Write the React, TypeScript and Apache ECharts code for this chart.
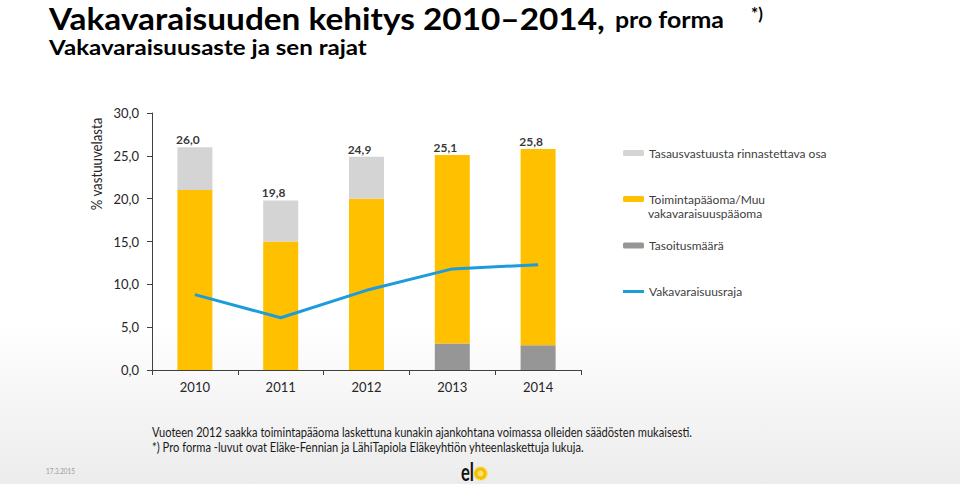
import React, { useEffect, useRef } from "react";
import * as echarts from "echarts";

const years = ["2010", "2011", "2012", "2013", "2014"];
const tasoitusmaara = [0, 0, 0, 3.1, 2.9];
const toimintapaaoma = [21.0, 15.0, 20.0, 22.0, 22.9];
const tasausvastuu = [5.0, 4.8, 4.9, 0, 0];
const totals = [26.0, 19.8, 24.9, 25.1, 25.8];
const vakavaraisuusraja = [8.8, 6.1, 9.3, 11.8, 12.3];

const NAME_TASAUS = "Tasausvastuusta rinnastettava osa";
const NAME_TOIM = "Toimintapääoma/Muu vakavaraisuuspääoma";
const NAME_TASOITUS = "Tasoitusmäärä";
const NAME_RAJA = "Vakavaraisuusraja";

const FONT = "Lato";

function measure(text: string, font: string): number {
  const c = document.createElement("canvas").getContext("2d");
  if (!c) return 1;
  c.font = font;
  return c.measureText(text).width || 1;
}

function fitText(
  text: string,
  x: number,
  y: number,
  size: number,
  weight: string,
  target: number,
  color: string,
  extra: any = {}
) {
  const w = measure(text, `${weight} ${size}px ${FONT}`);
  return {
    type: "text",
    x,
    y,
    scaleX: target / w,
    style: {
      text,
      fontFamily: FONT,
      fontSize: size,
      fontWeight: weight,
      fill: color,
      verticalAlign: "middle",
      align: "left",
    },
    ...extra,
  };
}

const fmt = (v: number) => v.toFixed(1).replace(".", ",");

export default function App() {
  const ref = useRef<HTMLDivElement>(null);

  useEffect(() => {
    document.body.style.margin = "0";
    if (!ref.current) return;
    const chart = echarts.init(ref.current, undefined, { renderer: "svg" });

    const yName = (() => {
      const text = "% vastuuvelasta";
      const w = measure(text, `normal 16px ${FONT}`);
      return {
        type: "text",
        x: 96,
        y: 164,
        rotation: Math.PI / 2,
        scaleX: 93 / w,
        style: {
          text,
          fontFamily: FONT,
          fontSize: 16,
          fill: "#262626",
          align: "center",
          verticalAlign: "middle",
        },
      };
    })();

    const legendBase = {
      left: 623,
      padding: 0,
      itemWidth: 21,
      itemHeight: 6,
      itemGap: 5,
      selectedMode: false,
      textStyle: { fontFamily: FONT, fontSize: 12, color: "#404040", lineHeight: 14 },
    };

    const option: any = {
      animation: false,
      backgroundColor: "#ffffff",
      grid: { left: 152, right: 379, top: 113, bottom: 114, containLabel: false },
      legend: [
        { ...legendBase, top: 146, data: [NAME_TASAUS] },
        { ...legendBase, top: 192, data: [NAME_TOIM], formatter: () => "Toimintapääoma/Muu" },
        { ...legendBase, top: 238.5, data: [NAME_TASOITUS] },
        { ...legendBase, top: 284.5, itemHeight: 3, data: [{ name: NAME_RAJA, icon: "rect" }] },
      ],
      xAxis: {
        type: "category",
        data: years,
        boundaryGap: true,
        axisLine: { lineStyle: { color: "#404040", width: 1 } },
        axisTick: { show: true, length: 5, alignWithLabel: false, lineStyle: { color: "#404040" } },
        axisLabel: { margin: 10, fontFamily: FONT, fontSize: 13, color: "#262626" },
      },
      yAxis: {
        type: "value",
        min: 0,
        max: 30,
        interval: 5,
        splitLine: { show: false },
        axisLine: { show: true, lineStyle: { color: "#404040", width: 1 } },
        axisTick: { show: true, length: 5, lineStyle: { color: "#404040" } },
        axisLabel: {
          margin: 13,
          fontFamily: FONT,
          fontSize: 13,
          color: "#262626",
          formatter: (v: number) => fmt(v),
        },
      },
      series: [
        {
          name: NAME_TASOITUS,
          type: "bar",
          stack: "total",
          barWidth: 35,
          data: tasoitusmaara,
          itemStyle: { color: "#969696" },
        },
        {
          name: NAME_TOIM,
          type: "bar",
          stack: "total",
          barWidth: 35,
          data: toimintapaaoma,
          itemStyle: { color: "#FFC000" },
        },
        {
          name: NAME_TASAUS,
          type: "bar",
          stack: "total",
          barWidth: 35,
          data: tasausvastuu,
          itemStyle: { color: "#D4D4D4" },
        },
        {
          name: NAME_RAJA,
          type: "line",
          data: vakavaraisuusraja,
          symbol: "none",
          lineStyle: { color: "#1E9BDC", width: 3 },
          itemStyle: { color: "#1E9BDC" },
          z: 5,
        },
        {
          name: "totals",
          type: "scatter",
          data: totals,
          symbolSize: 1,
          itemStyle: { color: "transparent" },
          label: {
            show: true,
            position: "top",
            distance: 1,
            offset: [-7, 0],
            fontFamily: FONT,
            fontSize: 12,
            fontWeight: "bold",
            color: "#000000",
            formatter: (p: any) => fmt(p.value),
          },
          z: 6,
        },
      ],
      graphic: [
        {
          type: "rect",
          z: -10,
          silent: true,
          shape: { x: 0, y: 320, width: 960, height: 164 },
          style: {
            fill: new echarts.graphic.LinearGradient(0, 0, 0, 1, [
              { offset: 0, color: "#ffffff" },
              { offset: 1, color: "#ececec" },
            ]),
          },
        },
        fitText("Vakavaraisuuden kehitys 2010–2014,", 49, 17.5, 31, "bold", 556, "#000000"),
        fitText("pro forma", 615, 20, 22, "bold", 109, "#000000"),
        {
          type: "text",
          x: 751,
          y: 13,
          style: {
            text: "*)",
            fontFamily: FONT,
            fontSize: 17,
            fontWeight: "bold",
            fill: "#000000",
            verticalAlign: "middle",
          },
        },
        fitText("Vakavaraisuusaste ja sen rajat", 49, 47, 21, "bold", 318, "#000000"),
        yName,
        {
          type: "text",
          x: 648,
          y: 213,
          style: {
            text: "vakavaraisuuspääoma",
            fontFamily: FONT,
            fontSize: 12,
            fill: "#404040",
            verticalAlign: "middle",
          },
        },
        fitText(
          "Vuoteen 2012 saakka toimintapääoma laskettuna kunakin ajankohtana voimassa olleiden säädösten mukaisesti.",
          152,
          432,
          13,
          "normal",
          541,
          "#1a1a1a"
        ),
        fitText(
          "*) Pro forma -luvut ovat Eläke-Fennian ja LähiTapiola Eläkeyhtiön yhteenlaskettuja lukuja.",
          152,
          447,
          13,
          "normal",
          432,
          "#1a1a1a"
        ),
        fitText("17.3.2015", 46, 471, 8, "normal", 29, "#9a9a9a"),
        fitText("el", 461, 471.5, 24, "bold", 13, "#111111"),
        {
          type: "circle",
          shape: { cx: 480.5, cy: 473.5, r: 6.5 },
          style: { fill: "#F4C000", stroke: "#FFD84A", lineWidth: 1.5, lineDash: [2, 1.5] },
        },
        {
          type: "circle",
          shape: { cx: 480.5, cy: 473.5, r: 3 },
          style: { fill: "#FFE37A" },
        },
      ],
    };

    chart.setOption(option);
    return () => chart.dispose();
  }, []);

  return <div ref={ref} style={{ width: 960, height: 484 }} />;
}
